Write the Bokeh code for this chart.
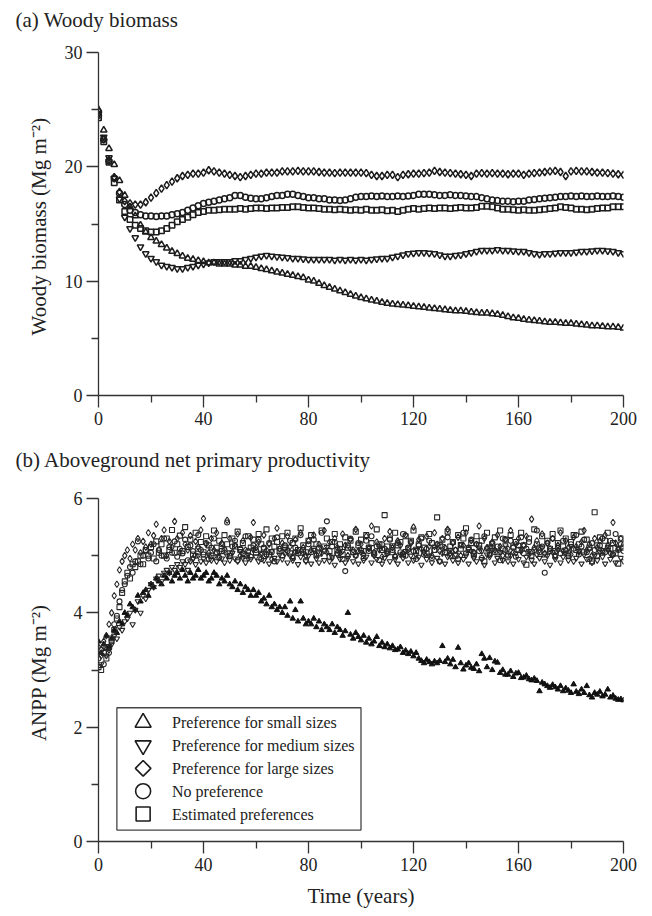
from math import pi
from bokeh.plotting import figure
from bokeh.layouts import column
from bokeh.models import Range1d, FixedTicker, Title
from bokeh.embed import file_html
from bokeh.resources import INLINE
from bokeh.core.properties import value

FONT = "Liberation Serif"
INK = "#1c1c1c"

# ---------------- data ----------------
years_a = list(range(0, 201, 2))
years_b = list(range(0, 201))

series_names = ["Preference for small sizes", "Preference for medium sizes",
                "Preference for large sizes", "No preference", "Estimated preferences"]

x_ticks = [0, 40, 80, 120, 160, 200]
x_minor = [20, 60, 100, 140, 180]
x_tick_labels = ["0", "40", "80", "120", "160", "200"]
ya_ticks = [0, 10, 20, 30]
ya_minor = [5, 15, 25]
ya_tick_labels = ["0", "10", "20", "30"]
yb_ticks = [0, 2, 4, 6]
yb_minor = [1, 3, 5]
yb_tick_labels = ["0", "2", "4", "6"]

# (a) woody biomass, every 2 years
small_a = [25.0, 23.2, 21.6, 20.2, 18.8, 17.5, 16.5, 15.7, 14.9, 14.3,
           13.8, 13.5, 13.2, 12.9, 12.6, 12.4, 12.2, 12.0, 11.9, 11.8,
           11.7, 11.6, 11.6, 11.5, 11.5, 11.5, 11.4, 11.4, 11.3, 11.3,
           11.2, 11.1, 11.0, 10.9, 10.8, 10.7, 10.6, 10.5, 10.4, 10.3,
           10.1, 10.0, 9.8, 9.6, 9.45, 9.3, 9.15, 9.0, 8.85, 8.7,
           8.55, 8.45, 8.35, 8.25, 8.15, 8.05, 8.0, 7.95, 7.9, 7.85,
           7.8, 7.75, 7.7, 7.65, 7.6, 7.55, 7.5, 7.45, 7.4, 7.4,
           7.35, 7.3, 7.25, 7.2, 7.2, 7.15, 7.1, 7.0, 6.9, 6.8,
           6.75, 6.65, 6.6, 6.55, 6.5, 6.45, 6.4, 6.4, 6.35, 6.3,
           6.3, 6.25, 6.2, 6.15, 6.1, 6.1, 6.05, 6.0, 6.0, 5.95, 5.9]
medium_a = [24.6, 22.6, 20.8, 19.0, 17.2, 15.6, 14.6, 13.8, 13.0, 12.4,
            12.0, 11.7, 11.4, 11.3, 11.2, 11.1, 11.1, 11.2, 11.3, 11.4,
            11.5, 11.6, 11.7, 11.7, 11.7, 11.7, 11.8, 11.8, 11.9, 12.0,
            12.1, 12.2, 12.25, 12.2, 12.15, 12.1, 12.05, 12.0, 12.0, 11.95,
            11.9, 11.9, 11.9, 11.9, 11.9, 11.85, 11.9, 11.85, 11.9, 11.85,
            11.9, 11.85, 11.9, 11.95, 12.0, 12.0, 12.1, 12.2, 12.3, 12.4,
            12.45, 12.5, 12.5, 12.45, 12.4, 12.3, 12.2, 12.2, 12.25, 12.3,
            12.4, 12.5, 12.6, 12.7, 12.7, 12.7, 12.75, 12.7, 12.7, 12.65,
            12.6, 12.6, 12.5, 12.4, 12.35, 12.4, 12.4, 12.45, 12.5, 12.5,
            12.5, 12.55, 12.6, 12.6, 12.65, 12.7, 12.7, 12.65, 12.6, 12.5, 12.4]
large_a = [24.9, 22.4, 20.6, 19.1, 17.8, 17.0, 16.8, 16.7, 16.7, 16.9,
           17.3, 17.7, 18.1, 18.4, 18.7, 19.0, 19.2, 19.3, 19.4, 19.4,
           19.5, 19.7, 19.6, 19.5, 19.4, 19.3, 19.2, 19.1, 19.2, 19.3,
           19.4, 19.4, 19.5, 19.5, 19.5, 19.6, 19.6, 19.6, 19.65, 19.6,
           19.6, 19.6, 19.55, 19.5, 19.5, 19.45, 19.5, 19.5, 19.5, 19.5,
           19.5, 19.45, 19.3, 19.2, 19.2, 19.3, 19.3, 19.1, 19.3, 19.35,
           19.4, 19.4, 19.45, 19.5, 19.65, 19.55, 19.5, 19.45, 19.4, 19.35,
           19.3, 19.2, 19.4, 19.45, 19.4, 19.45, 19.4, 19.4, 19.35, 19.4,
           19.4, 19.3, 19.4, 19.45, 19.5, 19.55, 19.6, 19.65, 19.55, 19.2,
           19.6, 19.65, 19.6, 19.6, 19.55, 19.5, 19.5, 19.45, 19.4, 19.35, 19.3]
none_a = [24.5, 22.4, 20.5, 19.0, 17.7, 16.7, 16.2, 16.0, 15.8, 15.7,
          15.7, 15.65, 15.7, 15.7, 15.8, 15.9, 16.0, 16.2, 16.4, 16.6,
          16.8, 16.9, 17.0, 17.1, 17.2, 17.3, 17.5, 17.5, 17.35, 17.25,
          17.2, 17.2, 17.3, 17.4, 17.5, 17.5, 17.6, 17.6, 17.5, 17.4,
          17.3, 17.3, 17.2, 17.2, 17.1, 17.1, 17.05, 17.1, 17.2, 17.35,
          17.4, 17.4, 17.45, 17.4, 17.45, 17.4, 17.4, 17.45, 17.4, 17.45,
          17.5, 17.6, 17.6, 17.6, 17.55, 17.5, 17.5, 17.55, 17.5, 17.5,
          17.45, 17.4, 17.4, 17.3, 17.2, 17.1, 17.05, 17.0, 17.0, 16.95,
          17.0, 17.0, 17.1, 17.15, 17.2, 17.25, 17.3, 17.35, 17.4, 17.4,
          17.45, 17.4, 17.45, 17.4, 17.4, 17.45, 17.4, 17.4, 17.45, 17.4, 17.35]
est_a = [24.3, 22.2, 20.4, 18.6, 17.1, 16.1, 15.4, 14.9, 14.6, 14.4,
         14.3, 14.3, 14.4, 14.6, 14.9, 15.2, 15.4, 15.6, 15.8, 16.0,
         16.1, 16.2, 16.2, 16.25, 16.3, 16.3, 16.3, 16.35, 16.3, 16.35,
         16.4, 16.4, 16.35, 16.4, 16.4, 16.45, 16.45, 16.5, 16.5, 16.45,
         16.4, 16.4, 16.35, 16.3, 16.3, 16.25, 16.3, 16.25, 16.2, 16.25,
         16.2, 16.3, 16.2, 16.2, 16.25, 16.15, 16.2, 16.1, 16.2, 16.3,
         16.35, 16.3, 16.35, 16.4, 16.35, 16.4, 16.4, 16.35, 16.4, 16.45,
         16.4, 16.4, 16.45, 16.55, 16.55, 16.5, 16.4, 16.3, 16.3, 16.25,
         16.2, 16.25, 16.2, 16.2, 16.25, 16.3, 16.35, 16.4, 16.5, 16.45,
         16.4, 16.3, 16.3, 16.25, 16.3, 16.35, 16.4, 16.4, 16.5, 16.5, 16.5]

# (b) ANPP, every year
small_b = [3.50, 3.30, 3.45, 3.60, 3.40, 3.55, 3.70, 3.65, 3.85, 3.80,
           4.00, 3.95, 4.15, 4.10, 4.05, 4.30, 4.20, 4.35, 4.40, 4.30,
           4.50, 4.45, 4.60, 4.55, 4.50, 4.65, 4.60, 4.70, 4.55, 4.65,
           4.70, 4.60, 4.75, 4.65, 4.55, 4.70, 4.60, 4.65, 4.75, 4.60,
           4.65, 4.70, 4.55, 4.60, 4.70, 4.65, 4.50, 4.60, 4.55, 4.65,
           4.50, 4.45, 4.55, 4.40, 4.50, 4.35, 4.45, 4.40, 4.30, 4.40,
           4.30, 4.35, 4.20, 4.25, 4.15, 4.30, 4.10, 4.15, 4.05, 4.10,
           4.00, 4.10, 3.95, 4.20, 3.90, 4.05, 3.85, 4.20, 3.90, 3.80,
           3.85, 3.80, 3.90, 3.75, 3.85, 3.70, 3.80, 3.75, 3.70, 3.80,
           3.65, 3.75, 3.70, 3.60, 3.68, 4.00, 3.62, 3.55, 3.65, 3.58,
           3.52, 3.60, 3.48, 3.55, 3.45, 3.50, 3.58, 3.42, 3.48, 3.40,
           3.45, 3.38, 3.42, 3.35, 3.36, 3.40, 3.30, 3.34, 3.28, 3.32,
           3.24, 3.30, 3.20, 3.16, 3.12, 3.18, 3.14, 3.10, 3.15, 3.12,
           3.16, 3.42, 3.14, 3.20, 3.10, 3.18, 3.05, 3.39, 3.12, 3.01,
           3.08, 3.12, 3.04, 3.02, 3.10, 2.98, 3.28, 3.20, 3.05, 3.21,
           3.00, 3.15, 3.13, 2.95, 3.00, 2.92, 2.92, 2.98, 2.88, 2.94,
           2.95, 2.86, 2.87, 2.90, 2.84, 2.82, 2.85, 2.81, 2.63, 2.78,
           2.75, 2.72, 2.69, 2.74, 2.70, 2.66, 2.72, 2.63, 2.68, 2.64,
           2.60, 2.75, 2.62, 2.58, 2.66, 2.60, 2.72, 2.56, 2.52, 2.60,
           2.57, 2.62, 2.54, 2.57, 2.66, 2.52, 2.55, 2.50, 2.48, 2.49, 2.47]
medium_b = [3.30, 3.10, 3.40, 3.25, 3.35, 3.45, 3.60, 3.55, 3.75, 3.70,
            3.85, 3.90, 4.00, 3.80, 4.05, 4.20, 4.00, 4.30, 4.25, 4.40,
            4.50, 4.45, 4.60, 4.65, 4.55, 4.70, 4.75, 4.70, 4.80, 4.75,
            4.85, 4.80, 4.90, 4.85, 4.75, 4.90, 4.95, 4.85, 5.00, 4.90,
            4.95, 4.88, 5.02, 4.92, 4.98, 4.90, 5.05, 4.95, 4.88, 5.00,
            4.92, 5.05, 4.95, 4.90, 5.08, 4.96, 4.88, 5.02, 4.94, 5.10,
            4.98, 4.90, 5.05, 4.92, 5.00, 4.86, 5.08, 4.96, 4.90, 5.02,
            4.94, 5.12, 4.88, 5.00, 4.92, 5.06, 4.85, 4.98, 5.04, 4.90,
            5.00, 4.86, 5.10, 4.95, 4.88, 5.04, 4.92, 5.15, 4.90, 4.98,
            4.84, 5.02, 4.94, 5.08, 4.88, 4.96, 5.12, 4.90, 5.00, 4.86,
            5.06, 4.92, 4.98, 5.14, 4.88, 5.00, 4.94, 5.10, 4.86, 4.96,
            5.04, 4.90, 5.18, 4.94, 4.86, 5.02, 4.96, 5.08, 4.88, 5.00,
            4.92, 5.12, 4.98, 4.84, 5.06, 4.94, 5.00, 4.88, 5.16, 4.96,
            4.90, 5.04, 4.86, 4.98, 5.10, 4.92, 5.02, 4.88, 5.20, 4.94,
            5.00, 4.86, 5.08, 4.96, 4.90, 5.14, 4.94, 4.84, 5.02, 4.98,
            5.10, 4.88, 4.96, 5.06, 4.92, 5.18, 4.90, 5.00, 4.86, 5.04,
            4.94, 5.12, 4.88, 4.98, 5.08, 4.92, 4.86, 5.02, 4.96, 5.14,
            4.90, 5.00, 4.84, 5.06, 4.94, 5.10, 4.88, 4.98, 5.04, 4.92,
            5.16, 4.90, 4.96, 5.08, 4.86, 5.02, 4.94, 5.12, 4.88, 5.00,
            4.92, 5.06, 4.98, 4.86, 5.10, 4.94, 5.02, 4.88, 5.14, 4.96, 4.90]
large_b = [3.40, 3.25, 3.50, 3.60, 3.80, 4.00, 4.30, 4.50, 4.75, 4.90,
           5.00, 5.10, 4.95, 5.20, 5.10, 5.30, 5.05, 5.25, 5.15, 5.40,
           5.20, 5.35, 5.55, 5.10, 5.30, 5.45, 5.00, 5.25, 5.15, 5.60,
           5.30, 5.05, 5.40, 5.20, 5.10, 5.35, 4.95, 5.25, 5.15, 5.45,
           5.65, 5.20, 5.05, 5.30, 5.10, 5.40, 4.98, 5.22, 5.12, 5.62,
           5.30, 5.06, 5.18, 5.38, 5.00, 5.26, 5.10, 4.96, 5.32, 5.58,
           5.14, 5.24, 5.02, 5.36, 5.10, 5.20, 4.94, 5.30, 5.48, 5.12,
           5.22, 5.04, 5.34, 5.16, 4.98, 5.28, 5.08, 5.40, 5.14, 5.00,
           5.26, 5.10, 5.36, 5.02, 5.20, 5.12, 5.44, 5.06, 5.24, 4.96,
           5.30, 5.14, 5.04, 5.38, 5.18, 5.00, 5.28, 5.10, 5.46, 5.08,
           5.20, 5.02, 5.34, 5.12, 5.52, 5.06, 5.24, 5.16, 4.98, 5.30,
           5.08, 5.42, 5.14, 5.00, 5.26, 5.18, 5.04, 5.36, 5.10, 5.22,
           5.50, 5.02, 5.28, 5.12, 5.06, 5.34, 5.16, 5.00, 5.40, 5.20,
           5.08, 5.30, 5.14, 5.46, 5.04, 5.22, 5.10, 5.32, 5.00, 5.18,
           5.40, 5.12, 5.26, 5.06, 5.20, 5.52, 5.08, 5.30, 5.14, 5.02,
           5.24, 5.10, 5.36, 5.16, 5.00, 5.28, 5.12, 5.44, 5.06, 5.20,
           5.30, 5.08, 5.18, 5.34, 5.02, 5.64, 5.14, 5.26, 5.10, 5.38,
           5.04, 5.22, 5.12, 5.30, 5.00, 5.18, 5.40, 5.08, 5.26, 5.14,
           5.02, 5.32, 5.16, 5.06, 5.24, 5.44, 5.10, 5.20, 5.00, 5.30,
           5.14, 5.26, 5.08, 5.36, 5.18, 5.04, 5.58, 5.22, 5.12, 5.30, 5.20]
none_b = [3.20, 3.35, 3.10, 3.40, 3.30, 3.50, 3.80, 3.95, 4.20, 4.40,
          4.50, 4.65, 4.80, 4.70, 4.90, 5.25, 4.85, 5.00, 5.10, 4.95,
          5.05, 5.20, 4.90, 5.10, 5.00, 5.30, 4.95, 5.15, 5.05, 5.25,
          4.98, 5.12, 5.04, 5.28, 4.92, 5.18, 5.08, 5.00, 5.36, 5.10,
          5.02, 5.22, 4.94, 5.14, 5.30, 5.06, 4.96, 5.20, 5.10, 5.58,
          5.00, 5.16, 5.26, 4.92, 5.12, 5.04, 5.34, 5.08, 4.98, 5.18,
          5.10, 5.28, 4.94, 5.14, 5.02, 5.22, 5.06, 4.90, 5.32, 5.12,
          5.00, 5.18, 5.08, 5.26, 4.96, 5.14, 5.04, 5.36, 5.10, 4.92,
          5.20, 5.06, 5.28, 5.00, 5.14, 5.40, 5.08, 5.60, 4.98, 5.16,
          5.24, 5.04, 5.12, 4.94, 4.73, 5.18, 5.30, 5.06, 5.00, 5.22,
          5.10, 4.96, 5.26, 5.08, 5.34, 5.02, 5.16, 4.92, 5.20, 5.12,
          5.04, 5.28, 5.10, 4.98, 5.22, 5.06, 5.38, 5.00, 5.14, 5.24,
          5.08, 4.94, 5.18, 5.30, 5.02, 5.12, 5.26, 4.96, 5.10, 5.20,
          4.90, 5.16, 5.06, 5.32, 5.00, 5.24, 5.10, 4.94, 5.18, 5.40,
          5.04, 5.14, 5.28, 5.00, 5.20, 5.08, 4.96, 5.34, 5.12, 5.02,
          5.22, 5.06, 5.16, 4.92, 5.30, 5.10, 5.00, 5.26, 5.14, 4.98,
          5.18, 5.32, 5.04, 5.12, 5.24, 5.00, 5.10, 5.44, 5.06, 5.16,
          4.70, 5.22, 5.08, 5.30, 4.98, 5.14, 5.04, 5.26, 5.10, 5.00,
          5.20, 5.12, 5.36, 5.02, 5.16, 5.28, 5.06, 4.94, 5.22, 5.10,
          5.00, 5.18, 5.30, 5.06, 5.14, 5.26, 5.02, 5.38, 5.10, 5.20, 5.08]
est_b = [3.05, 3.00, 3.30, 3.20, 3.40, 3.55, 3.70, 3.90, 4.10, 4.35,
         4.55, 4.70, 4.60, 4.85, 4.80, 4.90, 5.00, 4.85, 5.10, 5.00,
         5.15, 4.95, 5.25, 5.05, 5.20, 5.00, 5.30, 5.10, 5.45, 5.05,
         5.20, 5.35, 5.08, 5.50, 5.15, 5.28, 5.02, 5.40, 5.12, 5.24,
         5.06, 5.34, 5.18, 5.00, 5.44, 5.14, 5.26, 5.08, 5.36, 5.20,
         5.04, 5.30, 5.16, 5.42, 5.10, 5.22, 5.00, 5.34, 5.14, 5.28,
         5.06, 5.38, 5.20, 5.12, 5.46, 5.02, 5.30, 5.16, 5.24, 5.08,
         5.34, 5.14, 5.40, 5.04, 5.22, 5.30, 5.10, 5.48, 5.18, 5.06,
         5.26, 5.36, 5.12, 5.20, 5.04, 5.44, 5.16, 5.30, 5.08, 5.24,
         5.38, 5.10, 5.20, 5.02, 5.32, 5.14, 5.26, 5.06, 5.42, 5.18,
         5.28, 5.08, 5.36, 5.14, 5.22, 5.04, 5.46, 5.20, 5.10, 5.71,
         5.16, 5.30, 5.06, 5.40, 5.18, 5.24, 5.02, 5.34, 5.12, 5.26,
         5.44, 5.08, 5.20, 5.32, 5.14, 5.04, 5.38, 5.22, 5.10, 5.67,
         5.18, 5.28, 5.06, 5.42, 5.16, 5.24, 5.00, 5.36, 5.12, 5.30,
         5.48, 5.10, 5.22, 5.04, 5.34, 5.18, 5.26, 4.90, 5.40, 5.14,
         5.20, 5.32, 5.06, 5.44, 5.12, 5.28, 5.02, 5.36, 5.16, 5.24,
         5.10, 5.40, 5.18, 4.84, 5.30, 5.06, 5.46, 5.20, 5.14, 5.34,
         5.02, 5.26, 5.12, 5.38, 5.08, 5.22, 5.44, 5.16, 5.30, 5.04,
         5.24, 5.36, 5.10, 5.20, 5.42, 5.06, 5.28, 5.14, 4.90, 5.76,
         5.18, 5.32, 5.08, 5.26, 5.40, 5.12, 5.22, 5.04, 4.86, 5.30, 5.14]

# ---------------- styling helpers ----------------
W = 650
LEFT, RIGHT = 98, 27


def style_axes(p, yticks, yminor, ylabels, ylabel, ylabel_standoff, spacer):
    p.outline_line_color = None
    p.xgrid.grid_line_color = None
    p.ygrid.grid_line_color = None
    p.background_fill_color = "white"
    p.border_fill_color = "white"
    p.title.align = "left"
    p.title.offset = -83
    p.title.standoff = 10
    p.title.text_font = FONT
    p.title.text_font_size = "21px"
    p.title.text_font_style = "normal"
    p.title.text_color = "#222222"
    # invisible spacer between the panel title and the frame
    p.add_layout(Title(text=" ", text_font_size="1px", standoff=spacer,
                       text_color="white"), "above")
    p.xaxis.ticker = FixedTicker(ticks=x_ticks, minor_ticks=x_minor)
    p.xaxis.major_label_overrides = dict(zip(x_ticks, x_tick_labels))
    p.yaxis.ticker = FixedTicker(ticks=yticks, minor_ticks=yminor)
    p.yaxis.major_label_overrides = dict(zip(yticks, ylabels))
    for ax in (p.xaxis, p.yaxis):
        ax.axis_line_color = "#333333"
        ax.axis_line_width = 1.3
        ax.major_tick_line_color = "#333333"
        ax.major_tick_line_width = 1.3
        ax.minor_tick_line_color = "#333333"
        ax.minor_tick_line_width = 1.3
        ax.major_tick_out = 12
        ax.major_tick_in = 0
        ax.minor_tick_out = 7
        ax.minor_tick_in = 0
        ax.major_label_text_font = FONT
        ax.major_label_text_font_size = "18px"
        ax.major_label_text_color = "#222222"
        ax.major_label_standoff = 4
        ax.axis_label_text_font = FONT
        ax.axis_label_text_font_size = "21px"
        ax.axis_label_text_font_style = "normal"
        ax.axis_label_text_color = "#222222"
    p.yaxis.axis_label = ylabel
    p.yaxis.axis_label_standoff = ylabel_standoff


# ---------------- panel (a) ----------------
p1 = figure(width=W, height=440, x_range=Range1d(0, 200), y_range=Range1d(0, 30),
            title="(a) Woody biomass",
            output_backend="svg", toolbar_location=None,
            min_border_left=LEFT, min_border_right=RIGHT,
            min_border_top=51, min_border_bottom=45)
style_axes(p1, ya_ticks, ya_minor, ya_tick_labels,
           "Woody biomass  (Mg m\u207b\u00b2)", 11, 13)

mk_a = dict(fill_color=None, line_color=INK, line_width=1.5)
p1.scatter(years_a, small_a, marker="triangle", size=6.5, **mk_a)
p1.scatter(years_a, medium_a, marker="inverted_triangle", size=6.5, **mk_a)
p1.scatter(years_a, large_a, marker="diamond", size=7.5, **mk_a)
p1.scatter(years_a, none_a, marker="circle", size=6, **mk_a)
p1.scatter(years_a, est_a, marker="square", size=5.5, **mk_a)

# ---------------- panel (b) ----------------
p2 = figure(width=W, height=474, x_range=Range1d(0, 200), y_range=Range1d(0, 6),
            title="(b)  Aboveground net primary productivity",
            output_backend="svg", toolbar_location=None,
            min_border_left=LEFT, min_border_right=RIGHT,
            min_border_top=57, min_border_bottom=73)
style_axes(p2, yb_ticks, yb_minor, yb_tick_labels, "ANPP  (Mg m\u207b\u00b2)", 20, 19)
p2.xaxis.axis_label = "Time (years)"
p2.xaxis.axis_label_standoff = 10

mk_b = dict(fill_color=None, line_color="#262626", line_width=1.1)
p2.scatter(years_b, small_b, marker="triangle", size=5.5, fill_color="#111111",
           line_color="#111111", line_width=1.0)
p2.scatter(years_b, medium_b, marker="inverted_triangle", size=5.5, **mk_b)
p2.scatter(years_b, large_b, marker="diamond", size=6.5, **mk_b)
p2.scatter(years_b, none_b, marker="circle", size=5, **mk_b)
p2.scatter(years_b, est_b, marker="square", size=5, **mk_b)

# legend (drawn by hand to reproduce the large open symbols)
leg_left, leg_right, leg_bottom, leg_top = 7.0, 100.0, 0.20, 2.34
p2.quad(left=[leg_left], right=[leg_right], bottom=[leg_bottom], top=[leg_top],
        fill_color="white", line_color="#444444", line_width=1.3)
row_y = [2.08 - 0.40 * i for i in range(len(series_names))]
mx = 17.0
leg_mk = dict(fill_color=None, line_color=INK, line_width=1.6)
p2.scatter([mx], [row_y[0]], marker="triangle", size=16, **leg_mk)
p2.scatter([mx], [row_y[1]], marker="inverted_triangle", size=16, **leg_mk)
p2.scatter([mx], [row_y[2]], marker="square", size=11, angle=pi / 4, **leg_mk)
p2.scatter([mx], [row_y[3]], marker="circle", size=15, **leg_mk)
p2.scatter([mx], [row_y[4]], marker="square", size=14, **leg_mk)
p2.text(x=[28.0] * len(series_names), y=row_y, text=series_names,
        text_font=value(FONT), text_font_size="16px", text_baseline="middle",
        text_color=INK)

layout = column(p1, p2)
open("out.html", "w").write(file_html(layout, INLINE))
